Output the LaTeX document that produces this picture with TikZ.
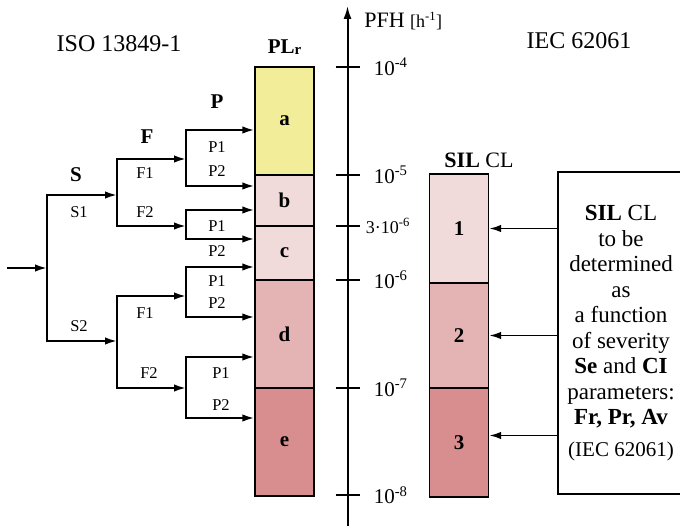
\documentclass[tikz,border=0pt]{standalone}
\usepackage{fontspec}
\setmainfont{Liberation Serif}
\usetikzlibrary{arrows.meta}
\definecolor{plyellow}{RGB}{241,237,152}
\definecolor{pinklight}{RGB}{240,218,218}
\definecolor{pinkmid}{RGB}{228,180,180}
\definecolor{pinkdark}{RGB}{216,142,142}
\newcommand{\fsz}[1]{\fontsize{#1}{#1}\selectfont}

\begin{document}
\begin{tikzpicture}[x=1pt, y=-1pt, line width=2pt,
    >={Latex[length=12pt,width=7.5pt]},
    cell/.style={draw, line width=1.4pt, minimum width=59pt, inner sep=0pt, font=\fsz{21}\bfseries},
    lab/.style={font=\fsz{16.5}, inner sep=0pt},
    head/.style={font=\fsz{21}\bfseries, inner sep=0pt}]
\useasboundingbox (0,0) rectangle (680,526);

% PL_r column
\node[cell, fill=plyellow, minimum height=108pt] (a) at (284.5,121) {a};
\node[cell, fill=pinklight, minimum height=51pt] (b) at (284.5,200.5) {b};
\node[cell, fill=pinklight, minimum height=54pt] (c) at (284.5,253) {c};
\node[cell, fill=pinkmid, minimum height=108pt] (d) at (284.5,334) {d};
\node[cell, fill=pinkdark, minimum height=108pt] (e) at (284.5,442) {e};

% SIL CL column
\node[cell, fill=pinklight, minimum height=109pt] (sil1) at (459,228.5) {1};
\node[cell, fill=pinkmid, minimum height=105pt] (sil2) at (459,335.5) {2};
\node[cell, fill=pinkdark, minimum height=109pt] (sil3) at (459,442.5) {3};

% headings
\node[font=\fsz{24}] (iso) at (119,44) {ISO 13849-1};
\node[font=\fsz{24}] (iec) at (579,41) {IEC 62061};
\node[head] (plr) at (284.5,47) {PL\raisebox{-1pt}{\fsz{15}r}};
\node[font=\fsz{22}] (silcl) at (479,160) {\textbf{SIL} CL};

% PFH axis
\coordinate (axbot) at (347.5,526);
\coordinate (axtop) at (347.5,6);
\draw[-{Latex[length=13pt,width=8pt]}] (axbot) -- (axtop);
\node[anchor=west, font=\fsz{22}] (pfh) at (360,21) {PFH {\fsz{18}[h\textsuperscript{-1}]}};
\foreach \y/\e/\n in {67/-4/4, 175/-5/5, 280/-6/6, 388/-7/7, 495/-8/8} {
  \coordinate (tk\n) at (347.5,\y);
  \draw[line width=1.5pt] ([xshift=-12pt]tk\n) -- ([xshift=12pt]tk\n);
  \node[anchor=west, font=\fsz{21}] (lb\n) at ([xshift=22pt]tk\n) {10\textsuperscript{\e}};
}
\coordinate (tk36) at (347.5,226);
\draw[line width=1.5pt] ([xshift=-12pt]tk36) -- ([xshift=12pt]tk36);
\node[anchor=west, font=\fsz{18}] (lb36) at ([xshift=14pt]tk36) {3·10\textsuperscript{-6}};

% risk graph S -> F -> P
\coordinate (in) at (7,268);
\coordinate (s1) at (47,195);
\coordinate (s2) at (47,341);
\coordinate (f11) at (117,159);
\coordinate (f12) at (117,226);
\coordinate (f21) at (117,296);
\coordinate (f22) at (117,388);
\foreach \t/\b [count=\i] in {130/186, 210/239, 267/317, 357/418} {
  \coordinate (pt\i) at (186,\t);
  \coordinate (pb\i) at (186,\b);
  \draw[<->] (pt\i -| a.west) -- (pt\i) -- (pb\i) -- (pb\i -| a.west);
}
\draw[->] (in) -- (in -| s1);
\draw[<->] (s1 -| f11) -- (s1) -- (s2) -- (s2 -| f21);
\draw[<->] (f11 -| pt1) -- (f11) -- (f12) -- (f12 -| pt2);
\draw[<->] (f21 -| pt3) -- (f21) -- (f22) -- (f22 -| pt4);

\node[head] (hs) at (76,175) {S};
\node[head] (hf) at (147,137) {F};
\node[head] (hp) at (217,102) {P};
\node[lab] (ls1) at (79,212) {S1};
\node[lab] (ls2) at (79,326) {S2};
\node[lab] (lf11) at (145,173) {F1};
\node[lab] (lf12) at (145,212) {F2};
\node[lab] (lf21) at (145,313) {F1};
\node[lab] (lf22) at (149,373) {F2};
\node[lab] (lp11) at (217,147) {P1};
\node[lab] (lp12) at (217,171) {P2};
\node[lab] (lp21) at (217,226) {P1};
\node[lab] (lp22) at (217,251) {P2};
\node[lab] (lp31) at (217,281) {P1};
\node[lab] (lp32) at (217,303) {P2};
\node[lab] (lp41) at (221,373) {P1};
\node[lab] (lp42) at (221,405) {P2};

% SIL CL description
\node[draw, line width=1.4pt, minimum width=126pt, minimum height=322pt, inner sep=0pt,
  align=center, font=\fontsize{23}{25.5}\selectfont] (box) at (621,333)
  {\textbf{SIL} CL\\to be\\determined\\as\\a function\\of severity\\
   \textbf{Se} and \textbf{CI}\\parameters:\\\textbf{Fr, Pr, Av}\\[6pt]
   {\fontsize{21}{25}\selectfont(IEC 62061)}};
\coordinate (s3in) at ([yshift=7pt]sil3.east);
\draw[->, line width=1.8pt] (box.west |- sil1.east) -- (sil1.east);
\draw[->, line width=1.8pt] (box.west |- sil2.east) -- (sil2.east);
\draw[->, line width=1.8pt] (box.west |- s3in) -- (s3in);
\end{tikzpicture}
\end{document}
